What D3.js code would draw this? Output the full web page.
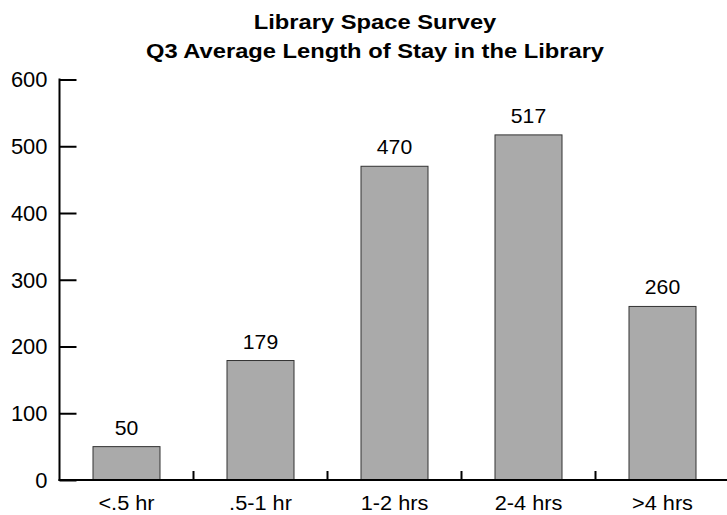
<!DOCTYPE html>
<html><head><meta charset="utf-8">
<script src="https://cdn.jsdelivr.net/npm/d3@7"></script>
<style>body{margin:0;background:#fff}text{font-family:"Liberation Sans",Arial,Helvetica,sans-serif;fill:#000}</style>
</head><body>
<svg id="c" width="727" height="515"></svg>
<script>
const categories = ["<.5 hr", ".5-1 hr", "1-2 hrs", "2-4 hrs", ">4 hrs"];
const values = [50, 179, 470, 517, 260];
const yTicks = [0, 100, 200, 300, 400, 500, 600];
const titleLines = ["Library Space Survey", "Q3 Average Length of Stay in the Library"];

(function () {
const svg = d3.select("#c");
const mLeft = 59.5, mRight = 729.5, mTop = 79.5, mBottom = 480;
const x = d3.scaleBand().domain(categories).range([mLeft, mRight]).paddingInner(0).paddingOuter(0);
const y = d3.scaleLinear().domain([0, 600]).range([mBottom, mTop]);
const bw = x.bandwidth() * 0.5;

// title
svg.selectAll("text.title").data(titleLines).join("text")
  .attr("class", "title")
  .attr("transform", (d, i) => `translate(375,${29 + i * 28.5}) scale(1.13,1)`)
  .attr("text-anchor", "middle").attr("font-weight", "bold").attr("font-size", 21)
  .text(d => d);

// bars
svg.selectAll("rect.bar").data(values).join("rect")
  .attr("class", "bar")
  .attr("x", (d, i) => x(categories[i]) + (x.bandwidth() - bw) / 2)
  .attr("y", d => y(d))
  .attr("width", bw)
  .attr("height", d => mBottom - y(d))
  .attr("fill", "#aaaaaa").attr("stroke", "#333").attr("stroke-width", 1);

// value labels
svg.selectAll("text.val").data(values).join("text")
  .attr("class", "val")
  .attr("transform", (d, i) => `translate(${x(categories[i]) + x.bandwidth() / 2},${y(d) - 12}) scale(1.06,1)`)
  .attr("text-anchor", "middle").attr("font-size", 20)
  .text(d => d);

// y axis
const yAxis = d3.axisRight(y).tickValues(yTicks).tickSize(17).tickFormat("");
const gy = svg.append("g").attr("transform", `translate(${mLeft},0)`).call(yAxis);
gy.select(".domain").remove();
gy.selectAll(".tick line").attr("stroke", "#000").attr("stroke-width", 2);
svg.append("line").attr("x1", mLeft).attr("x2", mLeft).attr("y1", mTop - 1).attr("y2", mBottom + 1)
  .attr("stroke", "#000").attr("stroke-width", 2);
svg.selectAll("text.yt").data(yTicks).join("text")
  .attr("class", "yt")
  .attr("transform", d => `translate(47.5,${y(d)}) scale(1.02,1)`)
  .attr("text-anchor", "end").attr("dy", "0.37em").attr("font-size", 21.5)
  .text(d => d);

// x axis
const xAxis = d3.axisTop(x).tickSize(9).tickFormat("").tickSizeOuter(0);
const gx = svg.append("g").attr("transform", `translate(0,${mBottom})`).call(xAxis);
gx.select(".domain").remove();
gx.selectAll(".tick line").attr("transform", `translate(${x.bandwidth() / 2},0)`)
  .attr("stroke", "#000").attr("stroke-width", 2);
gx.selectAll(".tick").filter((d, i) => i === categories.length - 1).remove();
svg.append("line").attr("x1", mLeft - 1).attr("x2", 727).attr("y1", mBottom).attr("y2", mBottom)
  .attr("stroke", "#000").attr("stroke-width", 2);
svg.selectAll("text.xl").data(categories).join("text")
  .attr("class", "xl")
  .attr("transform", d => `translate(${x(d) + x.bandwidth() / 2},510) scale(1.06,1)`)
  .attr("text-anchor", "middle").attr("font-size", 20.5)
  .text(d => d);
})();
</script>
</body></html>
